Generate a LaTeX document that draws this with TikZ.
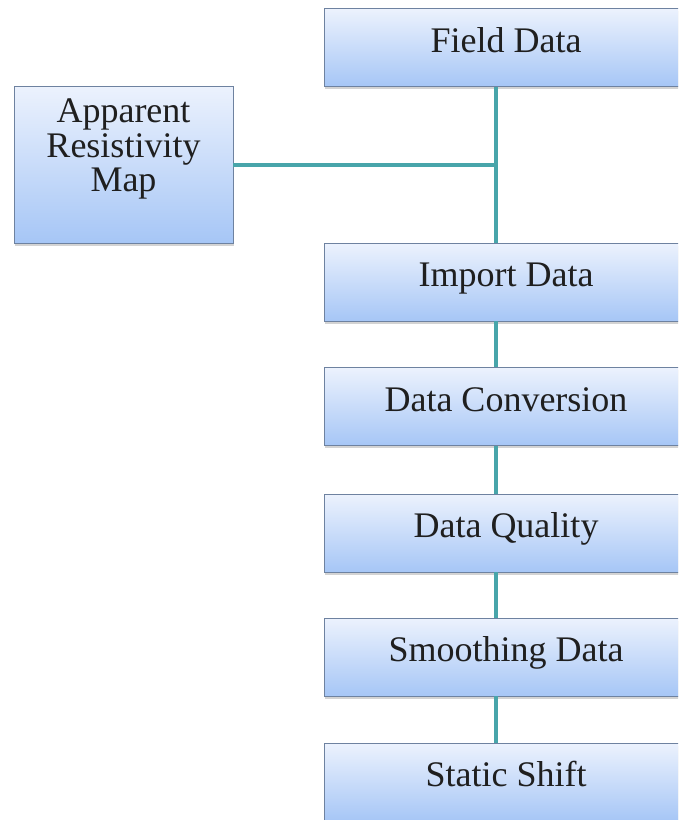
\documentclass[tikz,border=0pt]{standalone}
\usepackage{fontspec}
\setmainfont{Liberation Serif}
\usetikzlibrary{shadows}

\definecolor{boxtop}{RGB}{236,242,253}
\definecolor{boxbottom}{RGB}{166,198,246}
\definecolor{boxline}{RGB}{110,130,160}
\definecolor{linkline}{RGB}{72,165,170}

\tikzset{
	stage/.style={draw=boxline, line width=0.8pt, top color=boxtop, bottom color=boxbottom,
		minimum width=364, minimum height=78, inner sep=0pt, align=center,
		text height=18pt, text depth=9pt,
		font=\fontsize{36}{34.5}\selectfont, text=black!88,
		drop shadow={shadow xshift=1pt, shadow yshift=-2.5pt, opacity=0.35}},
	link/.style={draw=linkline, line width=4pt}
}

\begin{document}
\begin{tikzpicture}[x=1pt, y=-1pt]
		\useasboundingbox ( 0, 0 ) rectangle ( 678, 820 );
		\clip ( 0, 0 ) rectangle ( 678, 820 );

		% блоки обработки
		\node [stage] (field) at ( 506, 47.5 ) {Field Data};
		\node [stage] (import) at ( 506, 282 ) {Import Data};
		\node [stage] (conv) at ( 506, 406.5 ) {Data Conversion};
		\node [stage] (quality) at ( 506, 533 ) {Data Quality};
		\node [stage] (smooth) at ( 506, 657 ) {Smoothing Data};
		\node [stage] (shift) at ( 506, 782 ) {Static Shift};

		% карта кажущегося сопротивления
		\node [stage, minimum width=219, minimum height=157, text height=92pt, text depth=38pt] (appmap) at ( 123.5, 164.5 ) {Apparent\\Resistivity\\Map};

		% соединения
		\coordinate (spine) at ( 496, 165 );
		\draw [link] (field.south -| spine) -- (import.north -| spine);
		\draw [link] (appmap.east |- spine) -- (spine);
		\draw [link] (import.south -| spine) -- (conv.north -| spine);
		\draw [link] (conv.south -| spine) -- (quality.north -| spine);
		\draw [link] (quality.south -| spine) -- (smooth.north -| spine);
		\draw [link] (smooth.south -| spine) -- (shift.north -| spine);
	\end{tikzpicture}
\end{document}
